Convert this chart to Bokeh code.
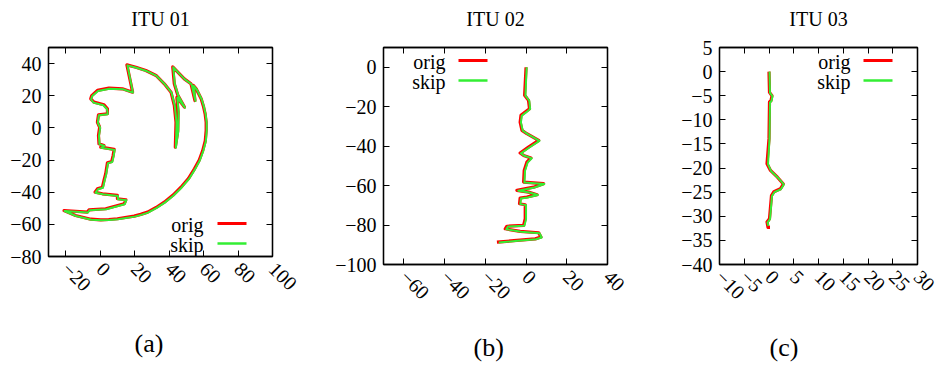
import math
from bokeh.plotting import figure
from bokeh.layouts import row
from bokeh.models import FixedTicker, LinearAxis, Label, BoxAnnotation, Title
from bokeh.embed import file_html
from bokeh.resources import INLINE

FONT = "Liberation Serif"

# ---------------- data ----------------
titles = ["ITU 01", "ITU 02", "ITU 03"]
sub_labels = ["(a)", "(b)", "(c)"]
series_names = ["orig", "skip"]

orig1_x = [-0.3, -1.6, -1.0, 4.2, 4.2, 2.2, -3.6, -5.5, -4.9, -1.6, 5.1, 12.9, 18.8, 15.5, 20.7, 26.5, 32.4, 37.2,
           41.1, 43.0, 44.0, 43.6, 45.0, 45.2, 44.5, 48.9, 45.0, 43.0, 42.1, 46.0, 48.8, 52.7, 55.0, 54.0, 55.7,
           58.6, 59.9, 60.9, 61.5, 61.5, 61.0, 59.5, 57.5, 54.7, 51.2, 46.9, 42.3, 37.2, 32.5, 27.5, 23.5, 19.7,
           10.0, 5.0, 0.3, -5.5, -14.3, -21.0, -7.5, -6.5, 3.2, 13.9, 14.9, 10.0, 10.0, 1.3, -3.0, -1.6, 1.3, 2.2,
           3.2, 4.2, 6.7, 7.5, 8.1, 0.3, 2.2, -0.7, -1.0, -0.3]
orig1_y = [0.4, 3.5, 8.1, 8.8, 11.9, 14.4, 16.0, 18.1, 20.1, 23.3, 24.7, 24.3, 22.2, 39.2, 37.7, 35.7, 32.6, 27.4,
           22.2, 14.0, 3.5, -12.0, -2.0, 10.0, 19.0, 12.9, 20.5, 27.4, 38.0, 33.6, 30.5, 27.4, 17.0, 26.5, 24.3,
           18.1, 13.5, 8.7, 3.5, -1.6, -8.0, -14.1, -20.0, -25.5, -31.5, -36.9, -41.8, -46.2, -49.5, -52.4, -53.8,
           -54.9, -56.5, -57.0, -57.2, -56.8, -54.5, -51.4, -52.4, -51.0, -50.3, -47.2, -44.7, -44.1, -42.0, -41.0,
           -40.0, -37.9, -36.9, -32.7, -28.5, -21.7, -20.9, -17.2, -13.4, -12.0, -10.9, -9.9, -4.7, 0.4]
skip1_x = [0.0, -1.4, -0.8, 4.4, 4.0, 1.8, -3.9, -5.3, -4.6, -1.2, 5.4, 13.2, 19.0, 15.8, 21.0, 26.8, 32.7, 37.5,
           41.4, 43.3, 44.3, 43.9, 45.3, 45.5, 44.8, 49.2, 45.3, 43.3, 42.4, 46.3, 49.1, 53.0, 55.3, 54.3, 56.0,
           58.9, 60.2, 61.2, 61.8, 61.8, 61.3, 59.8, 57.8, 55.0, 51.5, 47.2, 42.6, 37.5, 32.8, 27.8, 23.8, 20.0,
           10.3, 5.3, 0.6, -5.2, -14.0, -20.7, -7.2, -6.2, 3.5, 14.2, 15.2, 10.3, 10.3, 1.6, -2.7, -1.3, 1.6, 2.5,
           3.5, 4.5, 7.0, 7.8, 8.4, 0.6, 2.5, -0.4, -0.7, 0.0]
skip1_y = [0.1, 3.2, 7.8, 8.5, 11.6, 14.1, 15.7, 17.8, 19.8, 23.0, 24.4, 24.0, 21.9, 38.9, 37.4, 35.4, 32.3, 27.1,
           21.9, 13.7, 3.2, -12.3, -2.3, 9.7, 18.7, 12.6, 20.2, 27.1, 37.7, 33.3, 30.2, 27.1, 16.7, 26.2, 24.0,
           17.8, 13.2, 8.4, 3.2, -1.9, -8.3, -14.4, -20.3, -25.8, -31.8, -37.2, -42.1, -46.5, -49.8, -52.7, -54.1,
           -55.2, -56.8, -57.3, -57.5, -57.1, -54.8, -51.7, -52.7, -51.3, -50.6, -47.5, -45.0, -44.4, -42.3, -41.3,
           -40.3, -38.2, -37.2, -33.0, -28.8, -22.0, -21.2, -17.5, -13.7, -12.3, -11.2, -10.2, -5.0, 0.1]

orig2_x = [0.0, -0.7, 1.2, 1.7, -0.4, -2.5, -2.9, -2.0, 0.4, 6.2, 1.2, -2.9, -1.2, 2.4, 0.4, -0.9, -1.2, 8.6,
           3.7, -4.5, 1.2, 5.4, 0.4, -2.9, -3.2, -0.4, -0.4, -1.2, -9.4, -10.2, -2.9, 6.2, 7.3, 4.5, -4.5, -14.3]
orig2_y = [0.0, -14.2, -16.8, -21.0, -22.7, -24.4, -27.8, -32.0, -33.7, -37.1, -40.5, -43.5, -44.7, -46.0, -48.1,
           -52.3, -58.2, -59.0, -60.8, -62.4, -63.3, -64.6, -65.8, -66.3, -69.2, -69.7, -76.8, -80.2, -80.6, -81.9,
           -83.2, -83.9, -86.1, -87.0, -87.8, -88.7]
skip2_x = [0.3, -0.3, 1.6, 2.0, 0.0, -2.1, -2.5, -1.6, 0.8, 6.6, 1.6, -2.5, -0.8, 2.8, 0.8, -0.5, -0.8, 9.0,
           4.1, -3.8, 1.6, 5.8, 0.8, -2.5, -2.8, 0.0, 0.0, -0.8, -8.9, -9.7, -2.5, 6.6, 7.7, 4.9, -4.0, -13.4]
skip2_y = [0.0, -14.4, -17.0, -21.2, -22.9, -24.6, -28.0, -32.2, -33.9, -37.3, -40.7, -43.7, -44.9, -46.2, -48.3,
           -52.5, -58.4, -59.2, -61.0, -62.6, -63.5, -64.8, -66.0, -66.5, -69.4, -69.9, -77.0, -80.4, -80.8, -82.1,
           -83.4, -84.1, -86.3, -87.2, -88.0, -88.9]

orig3_x = [0.0, 0.1, 0.6, 0.4, 0.1, 0.0, -0.4, 0.3, 1.7, 2.9, 2.3, 1.0, 0.5, 0.1, -0.4, -0.2, 0.2]
orig3_y = [0.0, -4.3, -5.0, -6.0, -6.3, -13.9, -19.1, -20.5, -21.9, -23.3, -24.3, -24.9, -25.7, -30.5, -31.2,
           -32.3, -32.3]
skip3_x = [0.1, 0.2, 0.7, 0.5, 0.2, 0.1, -0.2, 0.4, 1.8, 3.0, 2.4, 1.1, 0.6, 0.2, -0.3, -0.1]
skip3_y = [0.0, -4.4, -5.1, -6.1, -6.4, -14.0, -19.2, -20.6, -22.0, -23.4, -24.4, -25.0, -25.8, -30.6, -31.3,
           -32.0]

x_ranges = [(-30, 100), (-70, 40), (-10, 30)]
y_ranges = [(-80, 50), (-100, 10), (-40, 5)]
x_ticks = [[-20, 0, 20, 40, 60, 80, 100], [-60, -40, -20, 0, 20, 40], [-10, -5, 0, 5, 10, 15, 20, 25, 30]]
y_ticks = [[-80, -60, -40, -20, 0, 20, 40], [-100, -80, -60, -40, -20, 0], [-40, -35, -30, -25, -20, -15, -10, -5, 0, 5]]

# ---------------- layout / style ----------------
frames = [  # frame_w, frame_h, border l, r, t, b
    (224, 209, 48, 50, 47, 101),
    (224, 217, 61, 53, 47, 93),
    (198, 217, 59, 23, 47, 93),
]
# legend: text right x, first row y, sample x0, x1 (screen px relative to frame bottom-left)
legend_pos = [(155, 33, 169, 198), (62, 204, 75, 104), (131, 204, 144, 173)]
sub_label_offset = [86, 90, 50]
sub_label_standoff = [52, 44, 44]

RED = "#ff0000"
GREEN = "#33ee33"


def style_axis(ax, ticks, labels=True, rotate=False):
    ax.ticker = FixedTicker(ticks=ticks)
    ax.major_tick_in = 6
    ax.major_tick_out = 0
    ax.minor_tick_line_color = None
    ax.axis_line_color = "black"
    ax.axis_line_width = 1.3
    ax.major_tick_line_color = "black"
    ax.major_tick_line_width = 1
    ax.major_label_text_font = FONT
    ax.major_label_text_font_size = "20px"
    ax.major_label_text_color = "black"
    ax.major_label_standoff = 7
    if rotate:
        ax.major_label_orientation = -math.pi / 4
        ax.major_label_standoff = 9
    if not labels:
        ax.major_label_overrides = {t: "" for t in ticks}
        ax.major_label_standoff = 0


def panel(i, data):
    fw, fh, bl, br, bt, bb = frames[i]
    p = figure(frame_width=fw, frame_height=fh, x_range=x_ranges[i], y_range=y_ranges[i],
               output_backend="svg", toolbar_location=None,
               min_border_left=bl, min_border_right=br, min_border_top=bt, min_border_bottom=bb)
    p.grid.visible = False
    p.outline_line_color = "black"
    p.outline_line_width = 1.3
    p.background_fill_color = "white"
    p.border_fill_color = "white"
    style_axis(p.xaxis[0], x_ticks[i], rotate=True)
    style_axis(p.yaxis[0], y_ticks[i])
    top = LinearAxis()
    style_axis(top, x_ticks[i], labels=False)
    # blank spacer label on the mirror axis lifts the title away from the frame
    top.axis_label = " "
    top.axis_label_text_font_size = "9px"
    top.axis_label_standoff = 1
    p.add_layout(top, "above")
    right = LinearAxis()
    style_axis(right, y_ticks[i], labels=False)
    p.add_layout(right, "right")

    # title
    p.title.text = titles[i]
    p.title.align = "center"
    p.title.text_font = FONT
    p.title.text_font_size = "20px"
    p.title.text_font_style = "normal"
    p.title.text_color = "black"
    p.title.standoff = 8

    # sub-figure label below
    p.add_layout(Title(text=sub_labels[i], align="left", offset=sub_label_offset[i],
                       text_font=FONT, text_font_size="26px", text_font_style="normal",
                       text_color="black", standoff=sub_label_standoff[i]), "below")

    ox, oy, sx, sy = data
    p.line(ox, oy, line_color=RED, line_width=3.2, line_join="round")
    p.line(sx, sy, line_color=GREEN, line_width=2.0, line_join="round")

    # legend (gnuplot style: text then sample)
    tx, ty, s0, s1 = legend_pos[i]
    for k, (name, col, lw) in enumerate(zip(series_names, [RED, GREEN], [3.0, 2.5])):
        yy = ty - 20 * k
        p.add_layout(Label(x=tx, y=yy - 1, x_units="screen", y_units="screen", text=name,
                           text_font=FONT, text_font_size="20px", text_color="black",
                           text_align="right", text_baseline="middle"))
        p.add_layout(BoxAnnotation(left=s0, right=s1, bottom=yy - lw / 2, top=yy + lw / 2,
                                   left_units="screen", right_units="screen",
                                   bottom_units="screen", top_units="screen",
                                   fill_color=col, fill_alpha=1.0, line_color=None))
    return p


p1 = panel(0, (orig1_x, orig1_y, skip1_x, skip1_y))
p2 = panel(1, (orig2_x, orig2_y, skip2_x, skip2_y))
p3 = panel(2, (orig3_x, orig3_y, skip3_x, skip3_y))

layout = row(p1, p2, p3)
open("out.html", "w").write(file_html(layout, INLINE))
